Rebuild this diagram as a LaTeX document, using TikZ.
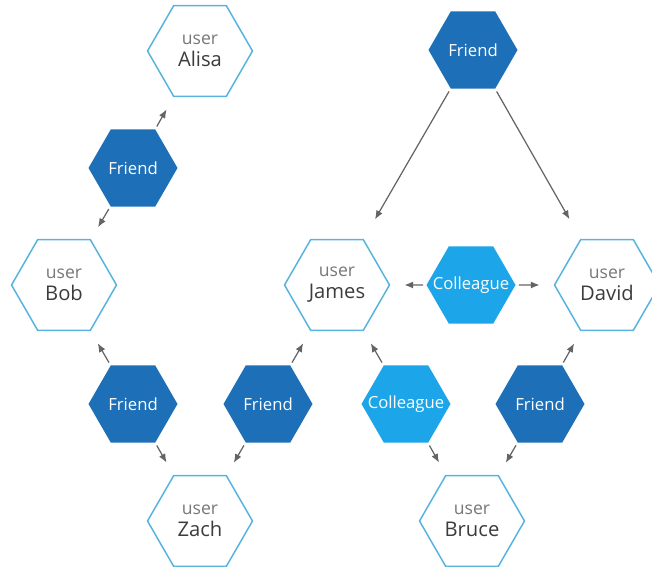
\documentclass[tikz,border=0pt]{standalone}
\usepackage{fontspec}
\setmainfont{Open Sans}
\usetikzlibrary{shapes.geometric,arrows.meta}

\definecolor{hexline}{RGB}{88,180,222}
\definecolor{frdblue}{RGB}{29,111,184}
\definecolor{colblue}{RGB}{28,165,232}
\definecolor{usergray}{RGB}{120,120,120}
\definecolor{namegray}{RGB}{60,60,60}
\definecolor{arrgray}{RGB}{100,100,100}

\begin{document}
\begin{tikzpicture}[
    usr/.style={regular polygon, regular polygon sides=6, draw=hexline, line width=0.85pt,
                fill=white, minimum size=2.1cm, inner sep=0pt, align=center,
                text=namegray, font=\fontsize{11.5}{12.5}\selectfont},
    rel/.style={regular polygon, regular polygon sides=6, minimum size=1.78cm, inner sep=0pt,
                text=white, font=\fontsize{9.5}{11}\selectfont},
    frd/.style={rel, fill=frdblue},
    col/.style={rel, fill=colblue},
    arr/.style={-{Latex[length=5pt,width=4pt]}, arrgray, line width=0.7pt,
                shorten <=0.06cm, shorten >=0.28cm},
    larr/.style={arr, shorten >=0.45cm}
]
    \useasboundingbox (0,0) rectangle (13.04,11.34);

    % users
    \node[usr] (alisa) at (4.00,10.32) {{\color{usergray}\fontsize{10}{12.5}\selectfont user}\\Alisa};
    \node[usr] (bob)   at (1.28,5.64)  {{\color{usergray}\fontsize{10}{12.5}\selectfont user}\\Bob};
    \node[usr] (james) at (6.74,5.64)  {{\color{usergray}\fontsize{10}{12.5}\selectfont user}\\James};
    \node[usr] (david) at (12.14,5.64) {{\color{usergray}\fontsize{10}{12.5}\selectfont user}\\David};
    \node[usr] (zach)  at (4.00,0.92)  {{\color{usergray}\fontsize{10}{12.5}\selectfont user}\\Zach};
    \node[usr] (bruce) at (9.44,0.92)  {{\color{usergray}\fontsize{10}{12.5}\selectfont user}\\Bruce};

    % relations
    \node[frd] (frdtop) at (9.46,10.34) {Friend};
    \node[frd] (frdab)  at (2.66,7.98)  {Friend};
    \node[col] (coljd)  at (9.42,5.64)  {\makebox[0pt]{Colleague}};
    \node[frd] (frdbz)  at (2.66,3.26)  {Friend};
    \node[frd] (frdzj)  at (5.36,3.26)  {Friend};
    \node[col] (coljb)  at (8.12,3.26)  {\makebox[0pt]{Colleague}};
    \node[frd] (frdbd)  at (10.80,3.26) {Friend};

    % edges
    \draw[larr] (frdtop) -- (james);
    \draw[larr] (frdtop) -- (david);
    \draw[arr] (frdab) -- (alisa);
    \draw[arr] (frdab) -- (bob);
    \draw[arr] (coljd) -- (james);
    \draw[arr] (coljd) -- (david);
    \draw[arr] (frdbz) -- (bob);
    \draw[arr] (frdbz) -- (zach);
    \draw[arr] (frdzj) -- (zach);
    \draw[arr] (frdzj) -- (james);
    \draw[arr] (coljb) -- (james);
    \draw[arr] (coljb) -- (bruce);
    \draw[arr] (frdbd) -- (bruce);
    \draw[arr] (frdbd) -- (david);
\end{tikzpicture}
\end{document}
